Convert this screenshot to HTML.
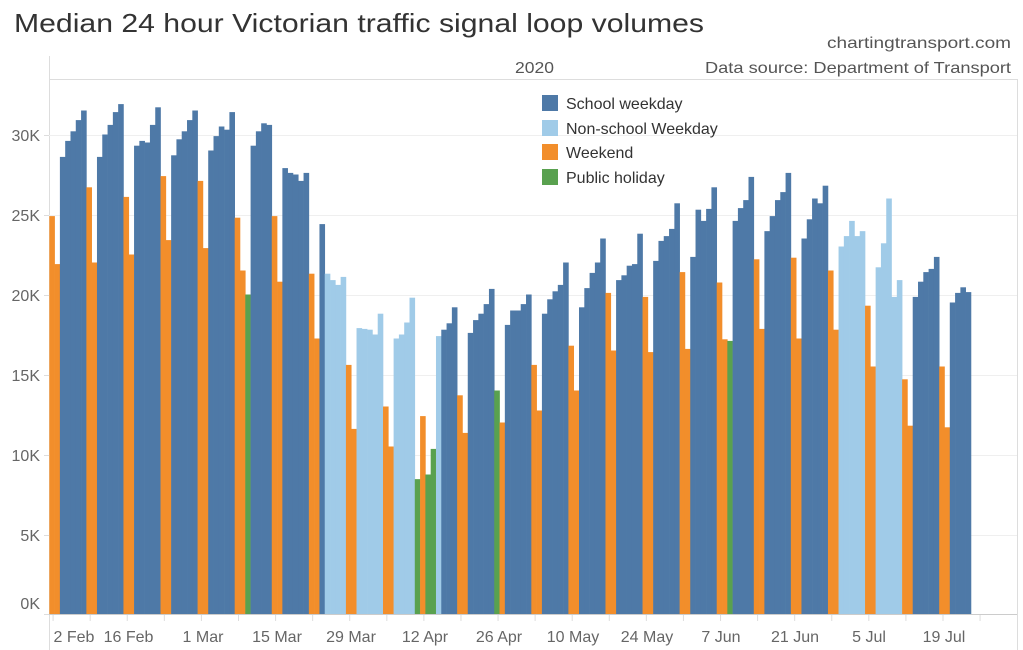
<!DOCTYPE html>
<html><head><meta charset="utf-8"><style>
html,body{margin:0;padding:0;background:#fff;}
svg{display:block;font-family:"Liberation Sans",sans-serif;}
</style></head><body>
<svg id="s" width="1023" height="650" viewBox="0 0 1023 650" xmlns="http://www.w3.org/2000/svg">
<rect width="1023" height="650" fill="#fff"/>
<text x="14" y="32" font-size="26" fill="#333" textLength="690" lengthAdjust="spacingAndGlyphs">Median 24 hour Victorian traffic signal loop volumes</text>
<text x="1011" y="48" font-size="16" fill="#555" text-anchor="end" textLength="184" lengthAdjust="spacingAndGlyphs">chartingtransport.com</text>
<text x="515" y="73" font-size="16" fill="#555" textLength="39" lengthAdjust="spacingAndGlyphs">2020</text>
<text x="1011" y="73" font-size="16" fill="#555" text-anchor="end" textLength="306" lengthAdjust="spacingAndGlyphs">Data source: Department of Transport</text>
<line x1="49" y1="79.5" x2="1017" y2="79.5" stroke="#ddd"/>
<line x1="49.5" y1="56" x2="49.5" y2="650" stroke="#ddd"/>
<line x1="1017.5" y1="79" x2="1017.5" y2="650" stroke="#ddd"/>
<g id="grid" stroke="#efefef"></g>
<g id="bars"></g>
<line x1="49" y1="614.5" x2="1017" y2="614.5" stroke="#ccc"/>
<g id="ticks" stroke="#ddd"></g>
<g font-size="16" fill="#666" text-anchor="end">
<text x="40" y="141">30K</text>
<text x="40" y="221">25K</text>
<text x="40" y="301">20K</text>
<text x="40" y="381">15K</text>
<text x="40" y="461">10K</text>
<text x="40" y="541">5K</text>
<text x="40" y="609">0K</text>
</g>
<g font-size="16" fill="#666" text-anchor="middle">
<text x="74" y="642">2 Feb</text>
<text x="128.5" y="642">16 Feb</text>
<text x="203" y="642">1 Mar</text>
<text x="277" y="642">15 Mar</text>
<text x="351" y="642">29 Mar</text>
<text x="425" y="642">12 Apr</text>
<text x="499" y="642">26 Apr</text>
<text x="573" y="642">10 May</text>
<text x="647" y="642">24 May</text>
<text x="721" y="642">7 Jun</text>
<text x="795" y="642">21 Jun</text>
<text x="869" y="642">5 Jul</text>
<text x="944" y="642">19 Jul</text>
</g>
<g font-size="16" fill="#333">
<rect x="542" y="95" width="16" height="16" fill="#4e79a7"/><text x="566" y="109">School weekday</text>
<rect x="542" y="120" width="16" height="16" fill="#a0cbe8"/><text x="566" y="134">Non-school Weekday</text>
<rect x="542" y="144" width="16" height="16" fill="#f28e2b"/><text x="566" y="158">Weekend</text>
<rect x="542" y="169" width="16" height="16" fill="#59a14f"/><text x="566" y="183">Public holiday</text>
</g>
</svg>
<script>
(function(){
var B="#4e79a7",L="#a0cbe8",O="#f28e2b",G="#59a14f";
var d=[
[O,24.9],[O,21.9],[B,28.6],[B,29.6],[B,30.2],[B,30.9],[B,31.5],
[O,26.7],[O,22.0],[B,28.6],[B,30.0],[B,30.6],[B,31.4],[B,31.9],
[O,26.1],[O,22.5],[B,29.3],[B,29.6],[B,29.5],[B,30.6],[B,31.7],
[O,27.4],[O,23.4],[B,28.7],[B,29.7],[B,30.2],[B,30.9],[B,31.5],
[O,27.1],[O,22.9],[B,29.0],[B,29.9],[B,30.5],[B,30.3],[B,31.4],
[O,24.8],[O,21.5],[G,20.0],[B,29.3],[B,30.2],[B,30.7],[B,30.6],
[O,24.9],[O,20.8],[B,27.9],[B,27.6],[B,27.5],[B,27.1],[B,27.6],
[O,21.3],[O,17.25],[B,24.4],[L,21.3],[L,20.9],[L,20.6],[L,21.1],
[O,15.6],[O,11.6],[L,17.9],[L,17.85],[L,17.8],[L,17.5],[L,18.8],
[O,13.0],[O,10.5],[L,17.25],[L,17.5],[L,18.25],[L,19.8],[G,8.46],
[O,12.4],[G,8.75],[G,10.35],[L,17.4],[B,17.8],[B,18.2],[B,19.2],
[O,13.7],[O,11.35],[B,17.6],[B,18.4],[B,18.8],[B,19.4],[B,20.35],
[G,14.0],[O,12.0],[B,18.1],[B,19.0],[B,19.0],[B,19.4],[B,20.0],
[O,15.6],[O,12.75],[B,18.8],[B,19.7],[B,20.2],[B,20.6],[B,22.0],
[O,16.8],[O,14.0],[B,19.2],[B,20.4],[B,21.35],[B,22.0],[B,23.5],
[O,20.1],[O,16.5],[B,20.9],[B,21.2],[B,21.8],[B,21.9],[B,23.8],
[O,19.85],[O,16.4],[B,22.1],[B,23.35],[B,23.65],[B,24.1],[B,25.7],
[O,21.4],[O,16.6],[B,22.35],[B,25.3],[B,24.6],[B,25.35],[B,26.7],
[O,20.75],[O,17.2],[G,17.1],[B,24.6],[B,25.4],[B,25.9],[B,27.35],
[O,22.2],[O,17.85],[B,23.96],[B,24.9],[B,25.9],[B,26.4],[B,27.6],
[O,22.3],[O,17.25],[B,23.5],[B,24.7],[B,26.0],[B,25.7],[B,26.8],
[O,21.5],[O,17.8],[L,23.0],[L,23.65],[L,24.6],[L,23.65],[L,23.96],
[O,19.3],[O,15.5],[L,21.7],[L,23.2],[L,26.0],[L,19.85],[L,20.9],
[O,14.7],[O,11.8],[B,19.85],[B,20.8],[B,21.4],[B,21.6],[B,22.35],
[O,15.5],[O,11.7],[B,19.5],[B,20.1],[B,20.45],[B,20.15]];
var ns="http://www.w3.org/2000/svg",x0=49.3,w=5.297,z=614.5,k=16;
function el(g,t,a){var e=document.createElementNS(ns,t);for(var i in a)e.setAttribute(i,a[i]);document.getElementById(g).appendChild(e);}
[135,215,295,375,455,535].forEach(function(y){el("grid","line",{x1:44,x2:1017,y1:y+.5,y2:y+.5});});
[135,215,295,375,455,535,614].forEach(function(y){el("ticks","line",{x1:44,x2:49,y1:y+.5,y2:y+.5});});
for(var i=0;i<d.length;i++){var h=d[i][1]*k;el("bars","rect",{x:(x0+i*w).toFixed(2),y:(z-h).toFixed(2),width:(w+0.3).toFixed(2),height:h.toFixed(2),fill:d[i][0]});}
for(var j=0;j<26;j++){var tx=x0+(1+7*j)*w-1.5;el("ticks","line",{x1:tx,x2:tx,y1:615,y2:621});}
})();
</script>
</body></html>
